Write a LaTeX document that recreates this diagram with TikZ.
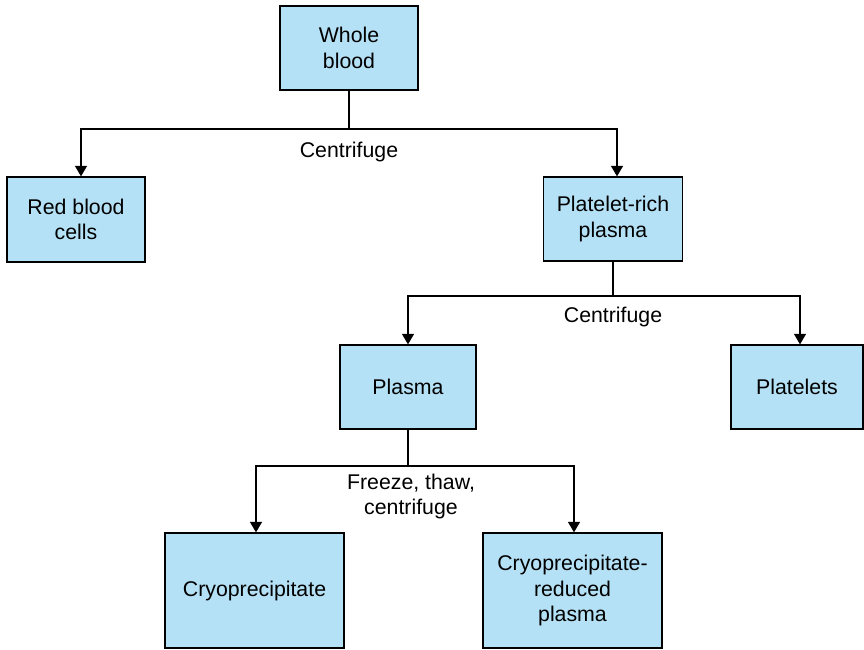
\documentclass[tikz,border=0pt]{standalone}
\usepackage{fontspec}
\setmainfont{Liberation Sans}
\usepackage{tikz}
\usetikzlibrary{arrows.meta}
\definecolor{boxblue}{RGB}{180,225,245}

\begin{document}
\begin{tikzpicture}[x=1pt,y=1pt,yscale=-1,xscale=1,
  blk/.style={draw,line width=1.3pt,fill=boxblue,align=center,inner sep=0pt,font=\fontsize{21.3}{25.5}\selectfont},
  lbl/.style={align=center,inner sep=0pt,font=\fontsize{21.3}{25}\selectfont},
  conn/.style={line width=1.3pt},
  arr/.style={conn,-{Triangle[width=12pt,length=10.5pt]}}]
\useasboundingbox (0,0) rectangle (864,649);

%Shape: Rectangle [id:wb]
\node[blk,minimum width=138pt,minimum height=84pt] (wb) at (349,48) {Whole\\blood};
%Shape: Rectangle [id:rbc]
\node[blk,minimum width=138pt,minimum height=85pt] (rbc) at (76,219.5) {Red blood\\cells};
%Shape: Rectangle [id:prp]
\node[blk,minimum width=139pt,minimum height=84pt] (prp) at (613,219) {Platelet-rich\\plasma};
%Shape: Rectangle [id:pla]
\node[blk,minimum width=136pt,minimum height=84pt] (pla) at (408,387) {Plasma};
%Shape: Rectangle [id:plt]
\node[blk,minimum width=132pt,minimum height=84pt] (plt) at (797,387) {Platelets};
%Shape: Rectangle [id:cryo]
\node[blk,minimum width=179pt,minimum height=115pt] (cryo) at (254.5,590.5) {Cryoprecipitate};
%Shape: Rectangle [id:crp]
\node[blk,minimum width=179pt,minimum height=115pt] (crp) at (572.5,590.5) {Cryoprecipitate-\\reduced\\plasma};

%Junctions
\coordinate (j1) at (349,129);
\coordinate (j2) at (613,296);
\coordinate (j3) at (408,466);

%Straight Lines [id:wb-split]
\draw[conn] (wb.south) -- (j1);
\draw[arr] (j1) -| ([xshift=5pt]rbc.north);
\draw[arr] (j1) -| ([xshift=4pt]prp.north);
%Straight Lines [id:prp-split]
\draw[conn] (prp.south) -- (j2);
\draw[arr] (j2) -| (pla.north);
\draw[arr] (j2) -| ([xshift=3pt]plt.north);
%Straight Lines [id:pla-split]
\draw[conn] (pla.south) -- (j3);
\draw[arr] (j3) -| ([xshift=1.5pt]cryo.north);
\draw[arr] (j3) -| ([xshift=1.5pt]crp.north);

% Text Node
\node[lbl] (c1) at (349,152) {Centrifuge};
% Text Node
\node[lbl] (c2) at (613,317) {Centrifuge};
% Text Node
\node[lbl] (c3) at (411,496.5) {Freeze, thaw,\\centrifuge};

\end{tikzpicture}
\end{document}
